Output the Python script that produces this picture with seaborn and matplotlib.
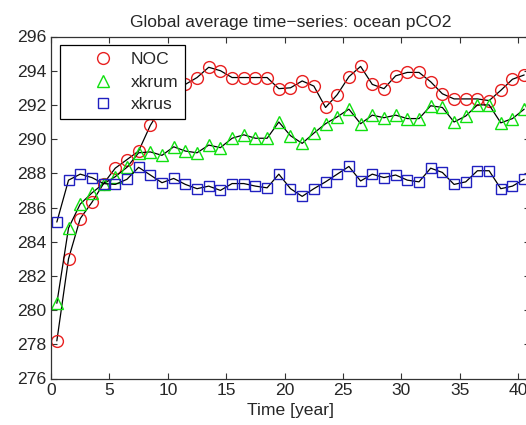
import numpy as np
import pandas as pd
import seaborn as sns
import matplotlib.pyplot as plt
from matplotlib.lines import Line2D

# Annual means, years 0.5 ... 40.5
years = np.arange(41) + 0.5

noc = [278.2, 283.0, 285.35, 286.3, 287.4, 288.3, 288.8, 289.3, 290.8, 291.9,
       292.8, 293.2, 293.6, 294.2, 294.0, 293.6, 293.6, 293.6, 293.6, 292.95,
       293.0, 293.4, 293.1, 291.85, 292.6, 293.65, 294.25, 293.2, 292.95, 293.7,
       293.9, 293.9, 293.35, 292.65, 292.35, 292.35, 292.35, 292.25, 292.85, 293.5,
       293.75]

xkrum = [280.4, 284.8, 286.2, 286.85, 287.4, 287.8, 288.35, 289.2, 289.25, 289.05,
         289.55, 289.3, 289.2, 289.65, 289.5, 290.05, 290.25, 290.05, 290.05, 291.0,
         290.2, 289.75, 290.35, 290.9, 291.3, 291.75, 290.9, 291.4, 291.25, 291.4,
         291.2, 291.2, 291.95, 291.85, 291.0, 291.35, 292.0, 292.0, 290.95, 291.2,
         291.75]

xkrus = [285.15, 287.6, 287.95, 287.75, 287.4, 287.35, 287.65, 288.35, 287.9, 287.45,
         287.7, 287.35, 287.1, 287.25, 287.0, 287.4, 287.4, 287.25, 287.15, 287.95,
         287.1, 286.65, 287.1, 287.5, 287.95, 288.4, 287.55, 287.95, 287.75, 287.9,
         287.6, 287.5, 288.3, 288.05, 287.35, 287.5, 288.15, 288.15, 287.1, 287.25,
         287.65]

series = {'NOC': (noc, 'o', '#e82020', 8.5),
          'xkrum': (xkrum, '^', '#10e010', 9),
          'xkrus': (xkrus, 's', '#2020c0', 7.5)}

sns.set_style("ticks")
plt.rcParams['font.family'] = ['Liberation Sans', 'DejaVu Sans']
fs = 12.6

fig = plt.figure(figsize=(5.26, 4.25), dpi=100)
ax = fig.add_axes([51 / 526, 46.5 / 425, 479 / 526, 342 / 425])

handles = []
for name, (vals, mk, col, ms) in series.items():
    df = pd.DataFrame({'year': years, 'val': vals})
    sns.lineplot(data=df, x='year', y='val', ax=ax, color='k', linewidth=0.9,
                 marker=mk, markersize=ms, markerfacecolor='none',
                 markeredgecolor=col, markeredgewidth=1.0)
    handles.append(Line2D([], [], linestyle='none', marker=mk, markersize=ms,
                          markerfacecolor='none', markeredgecolor=col,
                          markeredgewidth=1.0, label=name))

ax.set_xlim(0, 41)
ax.set_ylim(276, 296)
ax.set_xticks(np.arange(0, 41, 5))
ax.set_yticks(np.arange(276, 297, 2))
ax.tick_params(direction='in', top=True, right=True, length=4, labelsize=fs,
               color='#333333')
for sp in ax.spines.values():
    sp.set_color('#333333')
    sp.set_linewidth(0.9)

ax.set_title('Global average time\u2212series: ocean pCO2', fontsize=fs, pad=7)
ax.set_xlabel('Time [year]', fontsize=fs, labelpad=3)
ax.set_ylabel('')

leg = ax.legend(handles=handles, loc='upper left', fontsize=fs, frameon=True,
                fancybox=False, edgecolor='k', framealpha=1,
                handlelength=4.1, handletextpad=-0.45, borderpad=0.4,
                borderaxespad=0.5, labelspacing=0.4)
leg.get_frame().set_linewidth(0.9)

fig.savefig('out.png', dpi=100)
